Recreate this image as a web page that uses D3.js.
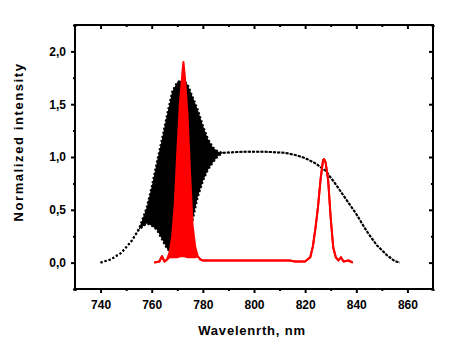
<!DOCTYPE html>
<meta charset="utf-8">
<style>
  body { margin: 0; background: #fff; }
  text { font-family: "Liberation Sans", Arial, sans-serif; font-weight: bold; }
  .axis path { display: none; }
  .axis line { stroke: #000; stroke-width: 2; }
  .axis text { font-size: 12px; fill: #000; }
</style>
<body>
<svg id="chart" width="450" height="355"></svg>
</body>
<script src="https://d3js.org/d3.v7.min.js"></script>
<script>

// broadband spectrum (black, dotted); lo/hi give the envelope of the dense fringes
var blackW  = [740, 744, 748, 752, 755, 758, 760, 762, 764, 766, 768, 770, 772, 774, 776, 778, 780, 782, 784, 786, 788, 792, 796, 800, 804, 808, 812, 816, 820, 824, 828, 832, 836, 840, 844, 848, 852, 855, 857];
var blackHi = [0, 0.03, 0.09, 0.2, 0.32, 0.52, 0.72, 0.95, 1.17, 1.4, 1.62, 1.71, 1.73, 1.69, 1.57, 1.45, 1.3, 1.17, 1.09, 1.05, 1.04, 1.045, 1.05, 1.05, 1.05, 1.045, 1.04, 1.02, 0.99, 0.94, 0.87, 0.74, 0.6, 0.46, 0.3, 0.165, 0.07, 0.015, 0];
var blackLo = [0, 0.03, 0.09, 0.2, 0.31, 0.37, 0.35, 0.31, 0.22, 0.13, 0.08, 0.09, 0.1, 0.2, 0.4, 0.62, 0.77, 0.88, 0.95, 1.01, 1.04, 1.045, 1.05, 1.05, 1.05, 1.045, 1.04, 1.02, 0.99, 0.94, 0.87, 0.74, 0.6, 0.46, 0.3, 0.165, 0.07, 0.015, 0];

// filtered line (red)
var redW  = [761, 763, 764, 765, 766, 767, 768, 769, 770, 771, 772, 772.4, 773, 774, 775, 776, 777, 778, 779, 780, 790, 800, 810, 814, 816, 820, 822, 823, 824, 825, 826, 827, 827.4, 828, 829, 830, 831, 832, 833, 834, 835, 837, 838.6];
var redHi = [0, 0.01, 0.06, 0.01, 0.03, 0.1, 0.25, 0.55, 1.05, 1.5, 1.8, 1.9, 1.75, 1.4, 0.85, 0.35, 0.15, 0.06, 0.03, 0.02, 0.02, 0.02, 0.02, 0.02, 0.01, 0.01, 0.05, 0.15, 0.32, 0.52, 0.78, 0.97, 0.98, 0.95, 0.78, 0.42, 0.14, 0.05, 0.02, 0.05, 0.01, 0.02, 0];
var redLo = [0, 0.01, 0.06, 0.01, 0.03, 0.05, 0.05, 0.05, 0.05, 0.06, 0.06, 0.06, 0.06, 0.05, 0.05, 0.05, 0.05, 0.06, 0.03, 0.02, 0.02, 0.02, 0.02, 0.02, 0.01, 0.01, 0.05, 0.15, 0.32, 0.52, 0.78, 0.97, 0.98, 0.95, 0.78, 0.42, 0.14, 0.05, 0.02, 0.05, 0.01, 0.02, 0];

var xMajor = [740, 760, 780, 800, 820, 840, 860];
var xMinor = [730, 750, 770, 790, 810, 830, 850, 870];
var yMajor = [0, 0.5, 1.0, 1.5, 2.0];
var yMinor = [-0.25, 0.25, 0.75, 1.25, 1.75, 2.25];

var svg = d3.select("#chart"),
    margin = {top: 25, right: 17, bottom: 66, left: 75},
    width = +svg.attr("width") - margin.left - margin.right,
    height = +svg.attr("height") - margin.top - margin.bottom,
    g = svg.append("g").attr("transform", "translate(" + margin.left + "," + margin.top + ")");

var x = d3.scaleLinear().domain([730, 870]).range([0, width]);
var y = d3.scaleLinear().domain([-0.25, 2.25]).range([height, 0]);

var fmt = function(d) { return d3.format(".1f")(d).replace(".", ","); };

var black = blackW.map(function(w, i) { return {w: w, lo: blackLo[i], hi: blackHi[i]}; });
var red = redW.map(function(w, i) { return {w: w, lo: redLo[i], hi: redHi[i]}; });

var area = d3.area()
    .x(function(d) { return x(d.w); })
    .y0(function(d) { return y(d.lo); })
    .y1(function(d) { return y(d.hi); });
var lineHi = d3.line().x(function(d) { return x(d.w); }).y(function(d) { return y(d.hi); });
var lineLo = d3.line().x(function(d) { return x(d.w); }).y(function(d) { return y(d.lo); });

// black fringes
g.append("path").datum(black).attr("d", area).attr("fill", "#000");
[lineHi, lineLo].forEach(function(l) {
  g.append("path").datum(black).attr("d", l)
    .attr("fill", "none").attr("stroke", "#000")
    .attr("stroke-width", 2).attr("stroke-dasharray", "2,2.2");
});

// red
g.append("path").datum(red).attr("d", area).attr("fill", "#ff0000");
[lineHi, lineLo].forEach(function(l) {
  g.append("path").datum(red).attr("d", l)
    .attr("fill", "none").attr("stroke", "#ff0000")
    .attr("stroke-width", 2).attr("stroke-linejoin", "round");
});

// axes: major + minor ticks on all four sides
g.append("g").attr("class", "axis").attr("transform", "translate(0," + height + ")")
  .call(d3.axisBottom(x).tickValues(xMajor).tickSize(4).tickPadding(7).tickFormat(d3.format("d")));
g.append("g").attr("class", "axis").attr("transform", "translate(0," + height + ")")
  .call(d3.axisBottom(x).tickValues(xMinor).tickSize(2).tickFormat(""));
g.append("g").attr("class", "axis")
  .call(d3.axisBottom(x).tickValues(xMajor).tickSize(4).tickFormat(""));
g.append("g").attr("class", "axis")
  .call(d3.axisBottom(x).tickValues(xMinor).tickSize(2).tickFormat(""));

g.append("g").attr("class", "axis")
  .call(d3.axisLeft(y).tickValues(yMajor).tickSize(4).tickPadding(5).tickFormat(fmt));
g.append("g").attr("class", "axis")
  .call(d3.axisLeft(y).tickValues(yMinor).tickSize(2).tickFormat(""));
g.append("g").attr("class", "axis").attr("transform", "translate(" + width + ",0)")
  .call(d3.axisLeft(y).tickValues(yMajor).tickSize(4).tickFormat(""));
g.append("g").attr("class", "axis").attr("transform", "translate(" + width + ",0)")
  .call(d3.axisLeft(y).tickValues(yMinor).tickSize(2).tickFormat(""));

// frame
g.append("rect")
  .attr("width", width).attr("height", height)
  .attr("fill", "none").attr("stroke", "#000").attr("stroke-width", 2);

// axis titles
svg.append("text")
  .attr("x", margin.left + width / 2 - 2)
  .attr("y", 335)
  .attr("text-anchor", "middle")
  .style("font-size", "13px")
  .style("letter-spacing", "0.8px")
  .text("Wavelenrth, nm");

svg.append("text")
  .attr("transform", "translate(23," + 142 + ") rotate(-90)")
  .attr("text-anchor", "middle")
  .style("font-size", "13px")
  .style("letter-spacing", "1.6px")
  .text("Normalized intensity");
</script>
